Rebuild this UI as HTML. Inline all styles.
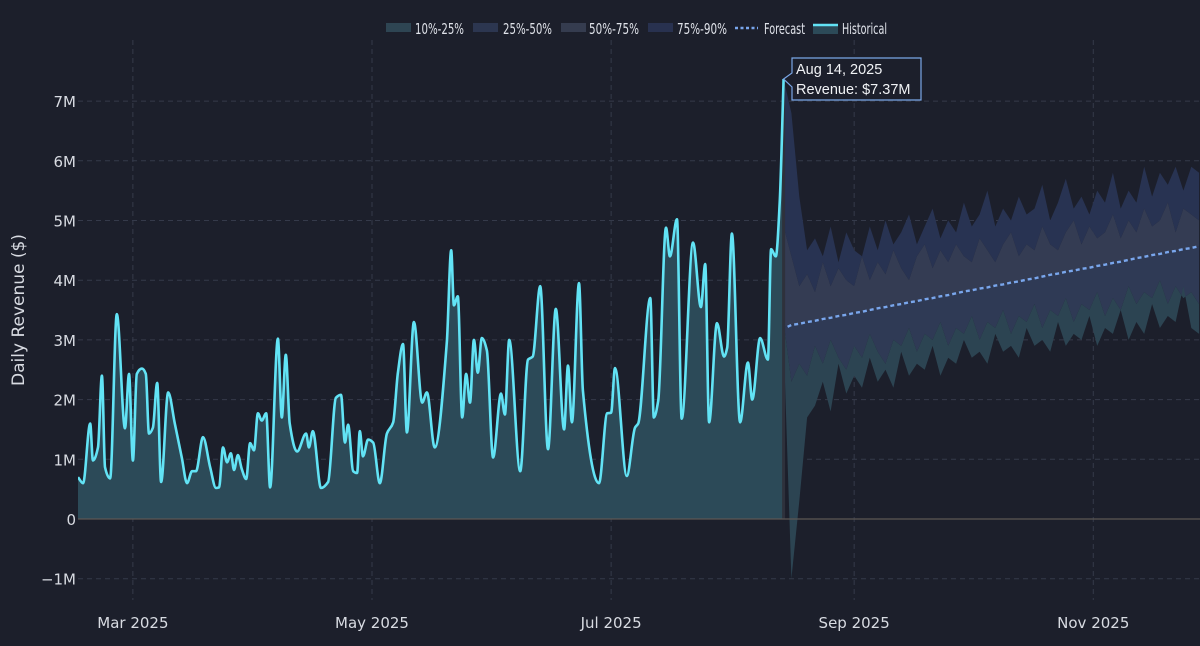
<!DOCTYPE html>
<html><head><meta charset="utf-8">
<style>
html,body{margin:0;padding:0;background:#1c1f2b;}
svg{display:block;}
text{font-family:"DejaVu Sans","Liberation Sans",sans-serif;}
text.lib{font-family:"Liberation Sans",sans-serif;}
</style></head>
<body>
<svg id="chart" width="1200" height="646" viewBox="0 0 1200 646" xmlns="http://www.w3.org/2000/svg">
<rect x="0" y="0" width="1200" height="646" fill="#1c1f2b"/>
<defs><clipPath id="plotclip"><rect x="78" y="40" width="1122" height="560"/></clipPath></defs>
<g id="grid"></g>
<g id="bands" clip-path="url(#plotclip)"></g>
<g id="hist" clip-path="url(#plotclip)"></g>
<g id="axes"></g>
<text x="24" y="310" fill="#d8dbe2" font-size="17" text-anchor="middle" transform="rotate(-90 24 310)">Daily Revenue ($)</text>
<g id="legend"></g>
<g id="tooltip"></g>
</svg>
<script>
// ---- data (days since Feb 15, 2025; values in $M) ----
const histDays = [0,1.3,3.1,3.8,5.1,6.1,6.9,8.2,9.9,12,13,14,15,16.3,17.3,18.1,19.1,20.2,21.2,23,24.7,26.5,27.8,29.1,30.1,31.9,33.7,35.2,36,37,38,39,39.8,40.8,41.8,42.9,43.9,44.9,45.9,46.9,48,49,51,52,53,54,55.9,58.2,58.9,59.9,62,63.8,65.8,67.1,68.1,68.9,70.2,71.2,71.9,72.7,74,75.3,77,78.8,80.4,81.6,82.9,83.9,85.7,87.8,89,91,94.1,95.2,95.9,96.9,98,99,100,101,102,103,104.3,105.9,107.9,108.9,110,112.8,114.8,116,117.9,119.9,121.9,124,125,126,127.8,128.8,132.9,135,136,137,140,142.1,142.9,146,146.9,148,150,151,152.8,154,156.9,158.9,160,161,163,164.8,165.6,166.8,168.9,170.9,172,174,176,176.8,178,179,180];
const histValues = [0.70,0.60,1.60,0.98,1.2,2.4,0.87,0.68,3.43,1.52,2.43,0.98,2.43,2.52,2.43,1.43,1.53,2.28,0.62,2.12,1.6,1.02,0.60,0.80,0.80,1.37,0.87,0.52,0.53,1.2,0.95,1.1,0.82,1.07,0.83,0.67,1.27,1.15,1.77,1.65,1.77,0.53,3.02,1.70,2.75,1.6,1.13,1.43,1.2,1.47,0.52,0.62,2.03,2.08,1.28,1.58,0.80,0.77,1.47,1.05,1.33,1.28,0.60,1.43,1.62,2.45,2.93,1.45,3.30,1.95,2.12,1.2,2.98,4.5,3.58,3.73,1.7,2.43,1.95,3.0,2.45,3.03,2.82,1.03,2.1,1.75,3.0,0.80,2.67,2.72,3.9,1.17,3.52,1.5,2.57,1.62,3.95,2.15,0.60,1.77,1.78,2.53,0.72,1.53,1.6,3.7,1.7,1.98,4.88,4.4,5.02,1.68,4.63,3.55,4.27,1.62,3.28,2.72,2.87,4.78,1.62,2.62,2.0,3.03,2.67,4.52,4.4,5.3,7.37];
const forecastStartDay = 180;
const forecastStepDays = 2;
const fcMedian = [3.22,3.25,3.27,3.30,3.32,3.35,3.37,3.40,3.42,3.45,3.47,3.50,3.53,3.55,3.58,3.60,3.63,3.65,3.68,3.70,3.73,3.75,3.78,3.81,3.83,3.86,3.88,3.91,3.93,3.96,3.98,4.01,4.03,4.06,4.09,4.11,4.14,4.16,4.19,4.21,4.24,4.26,4.29,4.31,4.34,4.37,4.39,4.42,4.44,4.47,4.49,4.52,4.54,4.57];
const fcP90 = [7.37,6.8,5.4,4.5,4.7,4.4,4.9,4.3,4.8,4.5,4.4,4.9,4.5,5.0,4.6,4.8,5.1,4.6,4.9,5.2,4.7,5.0,4.8,5.3,4.9,5.1,5.5,4.9,5.2,5.0,5.4,5.1,5.2,5.6,5.0,5.3,5.7,5.2,5.4,5.1,5.5,5.3,5.8,5.2,5.5,5.3,5.9,5.4,5.8,5.6,5.9,5.5,5.9,5.8];
const fcP75 = [4.9,4.4,3.9,4.1,3.8,4.3,3.9,4.2,4.0,3.9,4.4,4.0,4.3,4.1,4.5,4.2,4.0,4.4,4.6,4.2,4.5,4.3,4.6,4.4,4.3,4.7,4.5,4.3,4.6,4.8,4.4,4.6,4.5,4.9,4.6,4.5,4.8,5.0,4.6,4.9,4.7,4.8,5.1,4.7,5.0,4.8,5.2,4.9,5.0,5.3,4.8,5.2,5.1,5.0];
const fcP25 = [3.3,2.3,2.6,2.4,2.9,2.6,3.0,2.7,2.5,2.9,2.7,3.1,2.8,2.6,3.0,2.9,3.2,2.8,3.1,3.0,3.3,2.9,3.2,3.1,3.4,3.0,3.3,3.2,3.5,3.1,3.4,3.3,3.6,3.2,3.5,3.4,3.7,3.3,3.6,3.5,3.8,3.4,3.7,3.5,3.9,3.6,3.8,3.7,4.0,3.6,3.9,3.7,3.8,3.6];
const fcP10 = [3.0,-1.0,0.3,1.7,1.9,2.3,1.8,2.6,2.1,2.4,2.2,2.7,2.3,2.5,2.2,2.8,2.4,2.6,2.5,2.9,2.4,2.7,2.6,3.0,2.7,2.8,2.6,3.1,2.8,2.9,2.7,3.2,2.9,3.0,2.8,3.3,2.9,3.1,3.0,3.4,2.9,3.2,3.1,3.5,3.0,3.3,3.1,3.6,3.2,3.4,3.3,3.9,3.2,3.1];
const yTicks = [-1,0,1,2,3,4,5,6,7];
const yTickLabels = ["\u22121M","0","1M","2M","3M","4M","5M","6M","7M"];
const xTickDays = [14,75,136,198,259];
const xTickLabels = ["Mar 2025","May 2025","Jul 2025","Sep 2025","Nov 2025"];

// ---- scales ----
const X0 = 78, PX_PER_DAY = 3.92, Y0 = 519, PX_PER_M = 59.7;
const xs = d => X0 + d * PX_PER_DAY;
const ys = v => Y0 - v * PX_PER_M;
const NS = "http://www.w3.org/2000/svg";
function mk(tag, attrs, parent){const e=document.createElementNS(NS,tag);for(const k in attrs)e.setAttribute(k,attrs[k]);parent.appendChild(e);return e;}

// grid
const grid = document.getElementById('grid');
yTicks.forEach(t=>{
  if(t===0) return;
  const l = mk('line',{x1:78,x2:1200,y1:ys(t),y2:ys(t),stroke:'#353a4a','stroke-width':1,'stroke-dasharray':'5,4'},grid);
  
  
});
xTickDays.forEach(d=>{
  const l = mk('line',{x1:xs(d),x2:xs(d),y1:40,y2:600,stroke:'#353a4a','stroke-width':1,'stroke-dasharray':'5,4'},grid);
  
  
});

// bands
const fcDays = fcMedian.map((_,i)=>forecastStartDay + i*forecastStepDays);
const bands = document.getElementById('bands');
function band(lo, hi, color, name){
  let d = 'M'+fcDays.map((dd,i)=>xs(dd).toFixed(1)+','+ys(hi[i]).toFixed(1)).join('L');
  for(let i=fcDays.length-1;i>=0;i--) d += 'L'+xs(fcDays[i]).toFixed(1)+','+ys(lo[i]).toFixed(1);
  const p = mk('path',{d:d+'Z',fill:color},bands);
  
  
}
band(fcP75, fcP90, '#283352', 'band-75-90');
band(fcMedian, fcP75, '#343c53', 'band-50-75');
band(fcP25, fcMedian, '#2f3a55', 'band-25-50');
band(fcP10, fcP25, '#2c4452', 'band-10-25');

// monotone cubic path
function monotone(px, py){
  const n=px.length, m=new Array(n), dk=[];
  for(let i=0;i<n-1;i++) dk.push((py[i+1]-py[i])/(px[i+1]-px[i]));
  m[0]=dk[0]; m[n-1]=dk[n-2];
  for(let i=1;i<n-1;i++){ if(dk[i-1]*dk[i]<=0) m[i]=0; else { const h0=px[i]-px[i-1],h1=px[i+1]-px[i]; m[i]=3*(h0+h1)/((2*h1+h0)/dk[i-1]+(h1+2*h0)/dk[i]); } }
  let d='M'+px[0].toFixed(1)+','+py[0].toFixed(1);
  for(let i=0;i<n-1;i++){const h=(px[i+1]-px[i])/3;
    d+='C'+(px[i]+h).toFixed(1)+','+(py[i]+m[i]*h).toFixed(1)+' '+(px[i+1]-h).toFixed(1)+','+(py[i+1]-m[i+1]*h).toFixed(1)+' '+px[i+1].toFixed(1)+','+py[i+1].toFixed(1);}
  return d;
}
const hx = histDays.map(xs), hy = histValues.map(ys);
const lineD = monotone(hx, hy);
const hist = document.getElementById('hist');
const area = mk('path',{d:lineD+'L'+hx[hx.length-1]+','+Y0+'L'+hx[0]+','+Y0+'Z',fill:'#2c4a58'},hist);


const div = mk('line',{x1:hx[hx.length-1],x2:hx[hx.length-1],y1:hy[hy.length-1],y2:Y0,stroke:'#2e313c','stroke-width':3},hist);


const line = mk('path',{d:lineD,fill:'none',stroke:'#62e3f5','stroke-width':2.6,'stroke-linejoin':'round'},hist);


const med = mk('path',{d:'M'+fcDays.map((dd,i)=>(xs(dd)+ (i===0?4:0)).toFixed(1)+','+ys(fcMedian[i]).toFixed(1)).join('L'),fill:'none',stroke:'#79a6ec','stroke-width':2.4,'stroke-dasharray':'4,3'},hist);



// axes
const axes = document.getElementById('axes');
const zl = mk('line',{x1:78,x2:1200,y1:ys(0),y2:ys(0),stroke:'#5b5754','stroke-width':1.3},axes);


yTicks.forEach((t,i)=>{
  const tx = mk('text',{x:76,y:ys(t)+6,fill:'#d8dbe2','font-size':15,'text-anchor':'end'},axes);
  tx.textContent = yTickLabels[i];
  
  
});
xTickDays.forEach((d,i)=>{
  const tx = mk('text',{x:xs(d),y:628,fill:'#d8dbe2','font-size':15,'text-anchor':'middle'},axes);
  tx.textContent = xTickLabels[i];
  
  
});

// legend
const lg = document.getElementById('legend');
const legendItems = [
  {label:'10%-25%',x:386,tx:415,w:49,color:'#2e4553',type:'box'},
  {label:'25%-50%',x:473,tx:503,w:49,color:'#2c3650',type:'box'},
  {label:'50%-75%',x:561,tx:589,w:50,color:'#353c4f',type:'box'},
  {label:'75%-90%',x:648,tx:677,w:50,color:'#28314f',type:'box'},
  {label:'Forecast',x:735,tx:764,w:41,color:'#79a6ec',type:'dash'},
  {label:'Historical',x:813,tx:842,w:45,color:'#62e3f5',type:'hist'}
];
legendItems.forEach(it=>{
  const g = mk('g',{},lg);
  
  
  if(it.type==='box') mk('rect',{x:it.x,y:23,width:25,height:9,fill:it.color},g);
  else if(it.type==='dash') mk('line',{x1:it.x,x2:it.x+23,y1:28,y2:28,stroke:it.color,'stroke-width':2.4,'stroke-dasharray':'3,2.5'},g);
  else { mk('rect',{x:it.x,y:26,width:25,height:8,fill:'#2c4a58'},g); mk('line',{x1:it.x,x2:it.x+25,y1:25,y2:25,stroke:it.color,'stroke-width':2.5},g); }
  const t = mk('text',{x:it.tx,y:34,fill:'#e0e3ea','font-size':15.5,textLength:it.w,lengthAdjust:'spacingAndGlyphs'},g);
  t.textContent = it.label;
});

// tooltip
const tt = document.getElementById('tooltip');
const px = hx[hx.length-1], py = hy[hy.length-1];
mk('path',{d:`M${px},${py} L792,73 L792,58 L921,58 L921,100 L792,100 L792,87 Z`,fill:'#1c1f2b',stroke:'#7aa6e6','stroke-width':1.2},tt);
const t1 = mk('text',{x:796,y:74,fill:'#f0f2f5','font-size':14.5,'class':'lib'},tt);
t1.textContent='Aug 14, 2025';


const t2 = mk('text',{x:796,y:94,fill:'#f0f2f5','font-size':14.5,'class':'lib'},tt);
t2.textContent='Revenue: $7.37M';


</script>
</body></html>
